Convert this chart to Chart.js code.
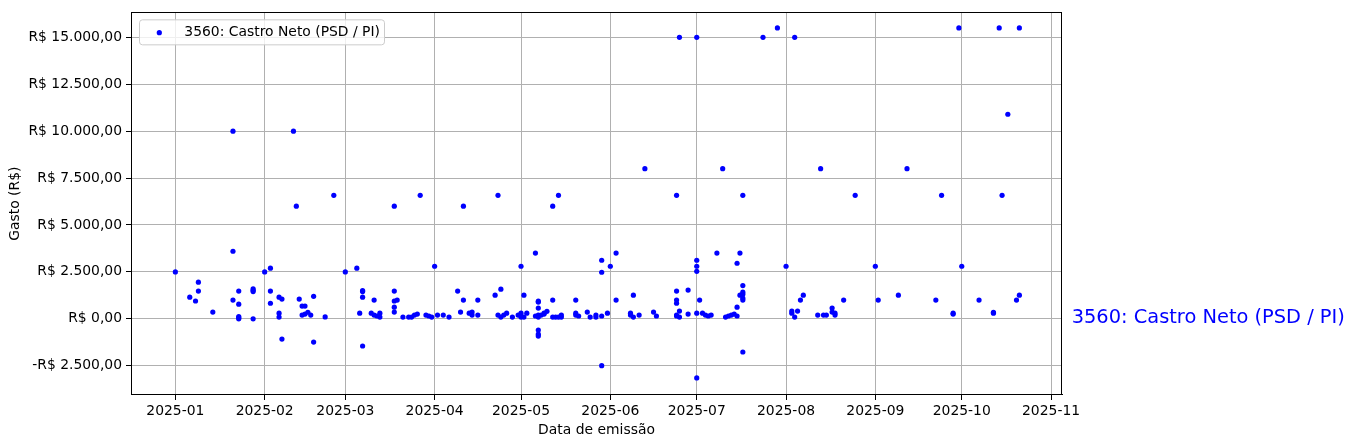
<!DOCTYPE html>
<html>
<head>
<meta charset="utf-8">
<script src="https://cdn.jsdelivr.net/npm/chart.js@4.4.1/dist/chart.umd.min.js"></script>
<style>
  body { margin: 0; background: #fff; }
  #wrap { width: 1354px; height: 448px; }
</style>
</head>
<body>
<div id="wrap"><canvas id="scatter" width="1354" height="448"></canvas></div>
<script>
// data: emission date + amount (R$)
const seriesName = '3560: Castro Neto (PSD / PI)';

const dates = [
  '2025-01-01','2025-01-06','2025-01-08','2025-01-09','2025-01-09','2025-01-14','2025-01-21','2025-01-21','2025-01-21',
  '2025-01-23','2025-01-23','2025-01-23','2025-01-23','2025-01-23','2025-01-28','2025-01-28','2025-01-28','2025-01-28',
  '2025-02-01','2025-02-03','2025-02-03','2025-02-03','2025-02-06','2025-02-06','2025-02-06','2025-02-07','2025-02-07',
  '2025-02-11','2025-02-12','2025-02-13','2025-02-14','2025-02-14','2025-02-15','2025-02-15','2025-02-16','2025-02-17',
  '2025-02-18','2025-02-18','2025-02-22','2025-02-25',
  '2025-03-01','2025-03-05','2025-03-06','2025-03-07','2025-03-07','2025-03-07','2025-03-07','2025-03-10','2025-03-11',
  '2025-03-11','2025-03-12','2025-03-13','2025-03-13','2025-03-18','2025-03-18','2025-03-18','2025-03-19','2025-03-18',
  '2025-03-18','2025-03-21','2025-03-23','2025-03-24','2025-03-25','2025-03-26','2025-03-27','2025-03-29','2025-03-30',
  '2025-03-31',
  '2025-04-01','2025-04-02','2025-04-04','2025-04-06','2025-04-09','2025-04-10','2025-04-11','2025-04-11','2025-04-13',
  '2025-04-14','2025-04-14','2025-04-16','2025-04-16','2025-04-22','2025-04-23','2025-04-23','2025-04-24','2025-04-24',
  '2025-04-25','2025-04-26','2025-04-28','2025-04-30',
  '2025-05-01','2025-05-01','2025-05-01','2025-05-02','2025-05-02','2025-05-03','2025-05-06','2025-05-06','2025-05-07',
  '2025-05-07','2025-05-07','2025-05-07','2025-05-07','2025-05-07','2025-05-07','2025-05-07','2025-05-08','2025-05-09',
  '2025-05-09','2025-05-10','2025-05-12','2025-05-12','2025-05-14','2025-05-12','2025-05-13','2025-05-14','2025-05-15',
  '2025-05-15','2025-05-20','2025-05-20','2025-05-20','2025-05-21','2025-05-24','2025-05-25','2025-05-27','2025-05-27',
  '2025-05-29','2025-05-29','2025-05-29','2025-05-29','2025-05-31',
  '2025-06-01','2025-06-03','2025-06-03','2025-06-08','2025-06-08','2025-06-09','2025-06-09','2025-06-11','2025-06-13',
  '2025-06-16','2025-06-17','2025-06-24','2025-06-24','2025-06-24','2025-06-24','2025-06-24','2025-06-24','2025-06-25',
  '2025-06-25','2025-06-25','2025-06-28','2025-06-28',
  '2025-07-01','2025-07-01','2025-07-01','2025-07-01','2025-07-01','2025-07-01','2025-07-02','2025-07-03','2025-07-04',
  '2025-07-05','2025-07-06','2025-07-08','2025-07-10','2025-07-11','2025-07-12','2025-07-13','2025-07-14','2025-07-15',
  '2025-07-15','2025-07-15','2025-07-16','2025-07-16','2025-07-17','2025-07-17','2025-07-17','2025-07-17','2025-07-17',
  '2025-07-17','2025-07-17','2025-07-24','2025-07-29',
  '2025-08-01','2025-08-03','2025-08-03','2025-08-04','2025-08-04','2025-08-05','2025-08-06','2025-08-07','2025-08-12',
  '2025-08-13','2025-08-14','2025-08-15','2025-08-17','2025-08-17','2025-08-18','2025-08-18','2025-08-21','2025-08-25',
  '2025-09-01','2025-09-02','2025-09-09','2025-09-12','2025-09-22','2025-09-24','2025-09-28','2025-09-28','2025-09-30',
  '2025-10-01','2025-10-07','2025-10-12','2025-10-12','2025-10-14','2025-10-15','2025-10-17','2025-10-20','2025-10-21',
  '2025-10-21'
];

const amounts = [
  2500, 1150, 950, 1950, 1480, 360, 10000, 3600, 1000,
  1480, 780, 120, 60, 0, 1600, 1520, 1450, 0,
  2500, 2700, 1480, 830, 1150, 300, 90, 1050, -1080,
  10000, 6000, 1050, 200, 680, 680, 250, 350, 200,
  1200, -1240, 100, 6580,
  2500, 2700, 300, 1150, 1450, 1500, -1450, 300, 1000,
  200, 150, 90, 300, 6000, 1480, 950, 1000, 620,
  360, 90, 90, 90, 200, 250, 6580, 200, 150,
  90,
  2800, 200, 200, 90, 1480, 360, 6000, 1000, 300,
  360, 200, 200, 1000, 1260, 6580, 200, 1580, 90,
  200, 300, 90, 200,
  2800, 300, 90, 1260, 90, 300, 3500, 150, 200,
  90, 940, 890, 570, -600, -820, -920, 200, 250,
  300, 400, 6000, 1000, 6580, 90, 90, 90, 200,
  90, 1000, 200, 300, 150, 360, 90, 200, 90,
  3120, 2480, 150, -2500, 300,
  2800, 3500, 1000, 200, 300, 90, 1260, 200, 8000,
  360, 150, 6580, 1480, 1000, 830, 200, 150, 90,
  410, 15000, 1530, 250,
  15000, 3120, 2800, 2530, 300, -3150, 1000, 300, 200,
  150, 200, 3500, 8000, 90, 150, 200, 250, 2960,
  620, 150, 3500, 1260, 6580, 1770, 1420, 1310, 1000,
  1100, -1770, 15000, 15500,
  2800, 410, 300, 90, 15000, 410, 1000, 1260, 200,
  8000, 200, 200, 570, 360, 200, 300, 1000, 6580,
  2800, 1000, 1260, 8000, 1000, 6580, 250, 300, 15500,
  2800, 1000, 300, 350, 15500, 6580, 10900, 1000, 1260,
  15500
];

const monthTicks = ['2025-01','2025-02','2025-03','2025-04','2025-05','2025-06','2025-07','2025-08','2025-09','2025-10','2025-11'];
const valueTicks = [-2500, 0, 2500, 5000, 7500, 10000, 12500, 15000];

const DAY = 86400000;
const xMin = Date.parse('2025-01-01') - 15.4 * DAY;
const xMax = Date.parse('2025-11-01') + 3.8 * DAY;

function brl(v) {
    const parts = Math.abs(v).toFixed(2).split('.');
    const inteiro = parts[0].replace(/\B(?=(\d{3})+(?!\d))/g, '.');
    return (v < 0 ? '-' : '') + 'R$ ' + inteiro + ',' + parts[1];
}

function monthLabel(ms) {
    const d = new Date(ms);
    return d.getUTCFullYear() + '-' + String(d.getUTCMonth() + 1).padStart(2, '0');
}

const points = dates.map((d, i) => ({ x: Date.parse(d), y: amounts[i] }));
const font = { family: 'DejaVu Sans', size: 13.9 };

// frame on top + right, legend box, label at the right of the axes
const extras = {
    id: 'extras',
    afterDraw(chart) {
        const ctx = chart.ctx;
        const a = chart.chartArea;
        ctx.save();
        ctx.strokeStyle = '#000';
        ctx.lineWidth = 1;
        ctx.strokeRect(Math.round(a.left) + 0.5, Math.round(a.top) + 0.5,
                       Math.round(a.right - a.left) - 1, Math.round(a.bottom - a.top) - 1);

        // legend
        const lx = a.left + 8.5, ly = a.top + 7.5, lw = 245, lh = 25;
        ctx.beginPath();
        ctx.roundRect(lx, ly, lw, lh, 3);
        ctx.fillStyle = 'rgba(255,255,255,0.8)';
        ctx.fill();
        ctx.strokeStyle = '#cccccc';
        ctx.stroke();
        ctx.beginPath();
        ctx.arc(a.left + 28.3, a.top + 20.3, 2.6, 0, Math.PI * 2);
        ctx.fillStyle = 'blue';
        ctx.fill();
        ctx.fillStyle = '#000';
        ctx.font = '13.9px "DejaVu Sans"';
        ctx.textBaseline = 'middle';
        ctx.fillText(seriesName, a.left + 53.3, a.top + 20.5);

        // series name next to the plot
        const y0 = chart.scales.y.getPixelForValue(0);
        ctx.fillStyle = 'blue';
        ctx.font = '19.4px "DejaVu Sans"';
        ctx.textBaseline = 'alphabetic';
        ctx.fillText(seriesName, a.right + 9.7, y0 + 4.5);
        ctx.restore();
    }
};

new Chart(document.getElementById('scatter'), {
    type: 'scatter',
    data: {
        datasets: [{
            label: seriesName,
            data: points,
            backgroundColor: 'blue',
            borderWidth: 0,
            pointRadius: 2.6,
            pointHoverRadius: 2.6
        }]
    },
    options: {
        responsive: false,
        animation: false,
        devicePixelRatio: 1,
        layout: { padding: { left: 0, right: 292, top: 10, bottom: 0 } },
        plugins: { legend: { display: false }, tooltip: { enabled: false } },
        scales: {
            x: {
                type: 'linear',
                min: xMin,
                max: xMax,
                z: 1,
                afterBuildTicks: scale => {
                    scale.ticks = monthTicks.map(m => ({ value: Date.parse(m + '-01') }));
                },
                afterFit: scale => { scale.height = 53; },
                ticks: {
                    font: font,
                    color: '#000',
                    padding: 3,
                    maxRotation: 0,
                    autoSkip: false,
                    callback: v => monthLabel(v)
                },
                grid: { color: '#b0b0b0', lineWidth: 1, tickColor: '#000', tickLength: 5 },
                border: { color: '#000', width: 1 },
                title: { display: true, text: 'Data de emissão', font: font, color: '#000', padding: { top: 0, bottom: 9.7 } }
            },
            y: {
                min: -4060,
                max: 16330,
                z: 1,
                afterBuildTicks: scale => {
                    scale.ticks = valueTicks.map(v => ({ value: v }));
                },
                afterFit: scale => { scale.width = 131; },
                ticks: {
                    font: font,
                    color: '#000',
                    padding: 4,
                    autoSkip: false,
                    callback: v => brl(v)
                },
                grid: { color: '#b0b0b0', lineWidth: 1, tickColor: '#000', tickLength: 5 },
                border: { color: '#000', width: 1 },
                title: { display: true, text: 'Gasto (R$)', font: font, color: '#000', padding: { top: 7.4, bottom: 0 } }
            }
        }
    },
    plugins: [extras]
});
</script>
</body>
</html>
